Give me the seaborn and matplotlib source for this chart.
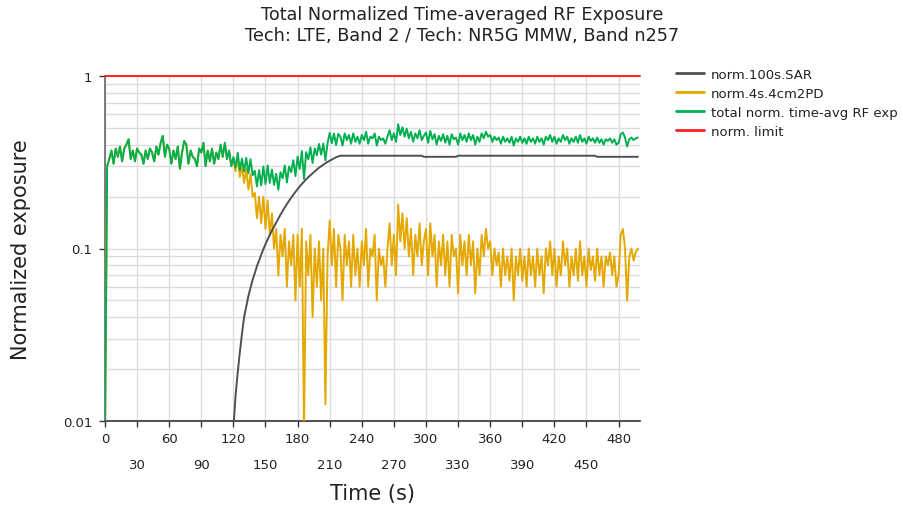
import numpy as np
import pandas as pd
import matplotlib
matplotlib.use("Agg")
import matplotlib.pyplot as plt
from matplotlib.ticker import LogLocator, NullFormatter, FixedLocator
from matplotlib.lines import Line2D
import seaborn as sns

# ---------------- data ----------------
time_s = list(range(0, 500, 2))  # 0 .. 498 s

pd_vals = [
    0.008, 0.30, 0.33, 0.37, 0.31, 0.38, 0.34, 0.39, 0.32, 0.38,   # 0-18
    0.40, 0.43, 0.33, 0.37, 0.32, 0.38, 0.36, 0.35, 0.31, 0.37,    # 20-38
    0.33, 0.38, 0.36, 0.32, 0.39, 0.35, 0.41, 0.45, 0.34, 0.40,    # 40-58
    0.38, 0.31, 0.37, 0.33, 0.39, 0.29, 0.36, 0.42, 0.40, 0.31,    # 60-78
    0.37, 0.34, 0.33, 0.30, 0.38, 0.36, 0.41, 0.30, 0.37, 0.32,    # 80-98
    0.38, 0.31, 0.36, 0.33, 0.40, 0.34, 0.41, 0.33, 0.37, 0.30,    # 100-118
    0.33, 0.28, 0.34, 0.26, 0.30, 0.24, 0.29, 0.22, 0.27, 0.20,    # 120-138
    0.21, 0.15, 0.20, 0.14, 0.20, 0.13, 0.19, 0.12, 0.16, 0.10,    # 140-158
    0.13, 0.07, 0.12, 0.09, 0.13, 0.06, 0.11, 0.08, 0.12, 0.05,    # 160-178
    0.12, 0.06, 0.13, 0.009, 0.11, 0.07, 0.12, 0.04, 0.10, 0.06,   # 180-198
    0.11, 0.05, 0.10, 0.0125, 0.09, 0.145, 0.08, 0.13, 0.06, 0.12, # 200-218
    0.10, 0.05, 0.12, 0.08, 0.11, 0.06, 0.12, 0.07, 0.10, 0.06,    # 220-238
    0.11, 0.08, 0.13, 0.06, 0.10, 0.09, 0.12, 0.05, 0.10, 0.08,    # 240-258
    0.09, 0.06, 0.10, 0.14, 0.08, 0.12, 0.07, 0.18, 0.11, 0.16,    # 260-278
    0.10, 0.15, 0.09, 0.13, 0.07, 0.12, 0.09, 0.14, 0.08, 0.11,    # 280-298
    0.13, 0.07, 0.14, 0.09, 0.12, 0.06, 0.11, 0.08, 0.12, 0.07,    # 300-318
    0.11, 0.06, 0.12, 0.09, 0.10, 0.055, 0.12, 0.08, 0.11, 0.07,   # 320-338
    0.12, 0.08, 0.11, 0.055, 0.10, 0.07, 0.12, 0.09, 0.13, 0.10,   # 340-358
    0.11, 0.07, 0.10, 0.08, 0.095, 0.06, 0.10, 0.07, 0.09, 0.065,  # 360-378
    0.10, 0.05, 0.09, 0.07, 0.10, 0.065, 0.09, 0.06, 0.10, 0.07,   # 380-398
    0.09, 0.06, 0.10, 0.07, 0.09, 0.055, 0.10, 0.08, 0.11, 0.07,   # 400-418
    0.10, 0.06, 0.09, 0.07, 0.11, 0.08, 0.10, 0.06, 0.09, 0.07,    # 420-438
    0.10, 0.065, 0.11, 0.07, 0.09, 0.06, 0.10, 0.075, 0.09, 0.065, # 440-458
    0.10, 0.07, 0.09, 0.06, 0.09, 0.08, 0.095, 0.07, 0.09, 0.06,   # 460-478
    0.07, 0.12, 0.13, 0.10, 0.05, 0.09, 0.10, 0.085, 0.095, 0.10,  # 480-498
]

sar_before = [0.0] * 60                       # 0-118 s (no SAR contribution)
sar_ramp = [                                   # 120-220 s
    0.009, 0.014, 0.019, 0.025, 0.032, 0.040, 0.046, 0.053, 0.059, 0.066,
    0.072, 0.079, 0.085, 0.092, 0.099, 0.106, 0.113, 0.120, 0.127, 0.134,
    0.141, 0.149, 0.157, 0.165, 0.173, 0.181, 0.189, 0.197, 0.205, 0.213,
    0.221, 0.229, 0.237, 0.244, 0.252, 0.259, 0.266, 0.273, 0.280, 0.287,
    0.294, 0.300, 0.306, 0.312, 0.318, 0.323, 0.328, 0.333, 0.338, 0.342,
    0.345,
]
sar_plateau = [0.345] * 38 + [0.340] * 16 + [0.345] * 65 + [0.340] * 20   # 222-498 s
sar_vals = sar_before + sar_ramp + sar_plateau

limit_x = [0, 500]
limit_y = [1.0, 1.0]

series_labels = ["norm.100s.SAR", "norm.4s.4cm2PD", "total norm. time-avg RF exp", "norm. limit"]
series_colors = ["#505050", "#e5a800", "#00b050", "#ff2020"]

x_major = list(range(0, 481, 60))
x_minor = list(range(30, 481, 60))

# ---------------- figure ----------------
sns.set_style("white")
plt.rcParams["font.family"] = ["DejaVu Sans"]

t = np.array(time_s, dtype=float)
pd_arr = np.array(pd_vals)
sar_arr = np.array(sar_vals)
total_arr = pd_arr + sar_arr
sar_plot = np.where(sar_arr > 0, sar_arr, np.nan)

df = pd.DataFrame({"t": t, "pd": pd_arr, "sar": sar_plot, "total": total_arr})

fig = plt.figure(figsize=(9.04, 5.10), dpi=100)
ax = fig.add_axes([105 / 904, 1 - 422 / 510, 535 / 904, 345 / 510])

lw = 1.4
sns.lineplot(data=df, x="t", y="pd", ax=ax, color=series_colors[1], lw=lw, zorder=3)
sns.lineplot(data=df, x="t", y="total", ax=ax, color=series_colors[2], lw=lw, zorder=4)
sns.lineplot(data=df.dropna(), x="t", y="sar", ax=ax, color=series_colors[0], lw=lw, zorder=5)
sns.lineplot(x=limit_x, y=limit_y, ax=ax, color=series_colors[3], lw=lw, zorder=6, clip_on=False)

ax.set_yscale("log")
ax.set_ylim(0.01, 1)
ax.set_xlim(0, 500)

ax.yaxis.set_major_locator(FixedLocator([0.01, 0.1, 1]))
ax.set_yticklabels(["0.01", "0.1", "1"])
ax.yaxis.set_minor_locator(LogLocator(base=10, subs=np.arange(2, 10)))
ax.yaxis.set_minor_formatter(NullFormatter())

ax.set_xticks(x_major)
ax.set_xticklabels([str(v) for v in x_major])
ax.set_xticks(x_minor, minor=True)
ax.set_xticklabels([str(v) for v in x_minor], minor=True)

ax.tick_params(axis="x", which="major", length=4, width=1, color="#333333",
               labelsize=9.5, pad=4, labelcolor="#222222")
ax.tick_params(axis="x", which="minor", length=4, width=1, color="#333333",
               labelsize=9.5, pad=23, labelcolor="#222222")
ax.tick_params(axis="y", which="major", length=4, width=1, color="#333333",
               labelsize=9.5, pad=5, labelcolor="#222222", left=True)
ax.tick_params(axis="y", which="minor", length=0)
ax.tick_params(axis="x", bottom=True, which="both")

ax.grid(True, which="both", axis="both", color="#dcdcdc", lw=1.0, zorder=0)
ax.set_axisbelow(True)

for s in ["top", "right"]:
    ax.spines[s].set_visible(False)
ax.spines["left"].set_color("#666666")
ax.spines["bottom"].set_color("#333333")
ax.spines["left"].set_linewidth(1.2)
ax.spines["bottom"].set_linewidth(1.2)

ax.set_xlabel("Time (s)", fontsize=15, color="#222222")
ax.set_ylabel("Normalized exposure", fontsize=15, color="#222222")
ax.xaxis.set_label_coords(0.5, -0.18)
ax.yaxis.set_label_coords(-0.138, 0.5)

fig.text(462 / 904, 1 - 6 / 510,
         "Total Normalized Time-averaged RF Exposure\nTech: LTE, Band 2 / Tech: NR5G MMW, Band n257",
         ha="center", va="top", fontsize=12.7, linespacing=1.2, color="#222222")

handles = [Line2D([0], [0], color=c, lw=2) for c in series_colors]
leg = ax.legend(handles, series_labels, loc="upper left",
                bbox_to_anchor=(676 / 904, 1 - 69 / 510), bbox_transform=fig.transFigure,
                frameon=False, fontsize=9.5, handlelength=2.1, handletextpad=0.55,
                labelspacing=0.45, borderpad=0, borderaxespad=0)
for txt in leg.get_texts():
    txt.set_color("#222222")

fig.savefig("out.png", dpi=100)
